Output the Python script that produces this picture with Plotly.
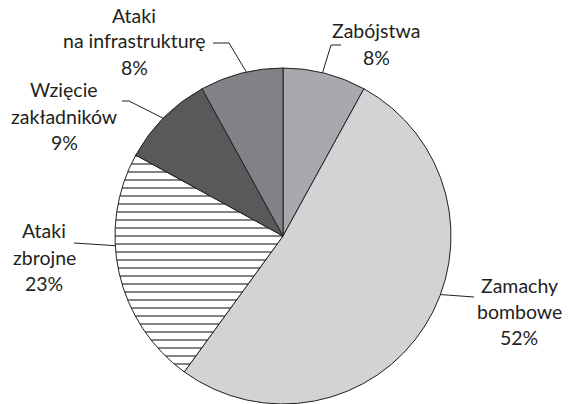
import math
import plotly.graph_objects as go

# data (clockwise from 12 o'clock)
labels = ['Zabójstwa', 'Zamachy bombowe', 'Ataki zbrojne', 'Wzięcie zakładników', 'Ataki na infrastrukturę']
values = [8, 52, 23, 9, 8]
label_lines = [
    ['Zabójstwa', '8%'],
    ['Zamachy', 'bombowe', '52%'],
    ['Ataki', 'zbrojne', '23%'],
    ['Wzięcie', 'zakładników', '9%'],
    ['Ataki', 'na infrastrukturę', '8%'],
]
colors = ['#a7a9ac', '#d1d3d4', '#ffffff', '#58595b', '#808285']
patterns = ['', '', '-', '', '']

W, H = 568, 404
CX, CY, R = 283, 236, 168
INK = '#231f20'

def px(x):
    return x / W

def py(y):
    return 1 - y / H

def edge(angle):
    # point on the pie rim, angle in degrees clockwise from 12 o'clock
    a = math.radians(angle)
    return CX + R * math.sin(a), CY - R * math.cos(a)

# label layout: text centre x, first line y, rim angle of leader, extra leader points
label_pos = [
    dict(x=376, y=31, angle=13.6, pts=[(331, 45), (341, 45)]),
    dict(x=519, y=285, angle=110.4, pts=[(474, 297)]),
    dict(x=44, y=231, angle=266.7, pts=[(74, 243)]),
    dict(x=64, y=90, angle=314.5, pts=[(129, 101), (122, 101)]),
    dict(x=134, y=15, angle=347.4, pts=[(229, 43), (213, 43)]),
]

fig = go.Figure(go.Pie(
    labels=labels,
    values=values,
    sort=False,
    direction='clockwise',
    rotation=0,
    textinfo='none',
    hoverinfo='label+percent',
    marker=dict(
        colors=colors,
        line=dict(color=INK, width=1),
        pattern=dict(shape=patterns, fgcolor=INK, size=8, solidity=0.14),
    ),
    domain=dict(x=[px(CX - R), px(CX + R)], y=[0, 2 * R / H]),
    showlegend=False,
))

annotations = []
shapes = []
for lines, pos in zip(label_lines, label_pos):
    for i, t in enumerate(lines):
        annotations.append(dict(
            x=px(pos['x']), y=py(pos['y'] + 26 * i), xref='paper', yref='paper',
            text=t, showarrow=False, xanchor='center', yanchor='middle',
            font=dict(family='Lato', size=19.5, color=INK),
        ))
    pts = [edge(pos['angle'])] + pos['pts']
    path = 'M ' + ' L '.join(f'{px(x):.5f},{py(y):.5f}' for x, y in pts)
    shapes.append(dict(type='path', path=path, xref='paper', yref='paper',
                       line=dict(color=INK, width=1)))

fig.update_layout(
    width=W, height=H,
    margin=dict(l=0, r=0, t=0, b=0),
    paper_bgcolor='white',
    plot_bgcolor='white',
    annotations=annotations,
    shapes=shapes,
)

# drop the browser's default body margin so the figure sits at the page corner
fig.write_html('out.html', config={'displayModeBar': False},
               post_script="document.body.style.margin='0';")
